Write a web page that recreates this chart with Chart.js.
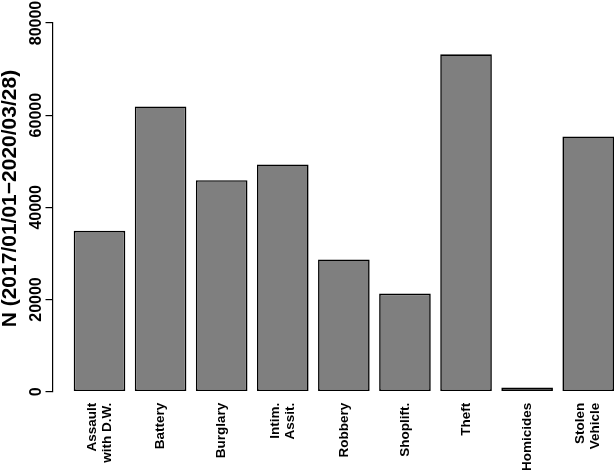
<!DOCTYPE html>
<html>
<head>
<meta charset="utf-8">
<script src="https://cdn.jsdelivr.net/npm/chart.js@4.4.0/dist/chart.umd.min.js"></script>
<style>
  html, body { margin: 0; padding: 0; background: #fff; overflow: hidden; }
</style>
</head>
<body>
<canvas id="crimeChart" width="614" height="471"></canvas>
<script>
// categories (multi-line labels as arrays)
const categories = [['Assault', 'with D.W.'], 'Battery', 'Burglary', ['Intim.', 'Assit.'], 'Robbery', 'Shoplift.', 'Theft', 'Homicides', ['Stolen', 'Vehicle']];
const counts = [34900, 61900, 45900, 49300, 28700, 21300, 73200, 900, 55400];
const yTicks = [0, 20000, 40000, 60000, 80000];

const FONT = '"Liberation Sans", Arial, Helvetica, sans-serif';

// rotated x labels, each line centred on its bar like R's las=2
const xLabelPlugin = {
  id: 'xLabels',
  afterDraw(chart) {
    const { ctx, chartArea, scales: { x } } = chart;
    const lh = 15;
    ctx.save();
    ctx.fillStyle = '#000';
    ctx.font = 'bold 13.5px ' + FONT;
    ctx.textAlign = 'right';
    ctx.textBaseline = 'middle';
    x.ticks.forEach((t, i) => {
      const lines = [].concat(categories[i]);
      const px = x.getPixelForValue(t.value);
      ctx.save();
      ctx.translate(px, chartArea.bottom + 11);
      ctx.rotate(-Math.PI / 2);
      lines.forEach((ln, j) => {
        ctx.fillText(ln, 0, (j - (lines.length - 1) / 2) * lh);
      });
      ctx.restore();
    });
    ctx.restore();
  }
};

const ctx = document.getElementById('crimeChart').getContext('2d');
new Chart(ctx, {
  type: 'bar',
  data: {
    datasets: [{
      data: counts.map((v, i) => ({ x: i + 1, y: v })),
      backgroundColor: '#7f7f7f',
      borderColor: '#000000',
      borderWidth: 1.6,
      borderSkipped: false,
      categoryPercentage: 1,
      barPercentage: 0.845
    }]
  },
  options: {
    responsive: false,
    animation: false,
    devicePixelRatio: 1,
    layout: { padding: { top: 23, left: 0, right: 0, bottom: 0 } },
    plugins: {
      legend: { display: false },
      tooltip: { enabled: false }
    },
    scales: {
      x: {
        type: 'linear',
        offset: false,
        min: 0.2306,
        max: 9.422,
        grid: { display: false, drawTicks: false, offset: false },
        border: { display: false },
        ticks: { display: false },
        afterBuildTicks: (s) => { s.ticks = categories.map((c, i) => ({ value: i + 1 })); },
        afterFit: (s) => { s.height = 79.3; }
      },
      y: {
        min: 0,
        max: 80000,
        afterBuildTicks: (s) => { s.ticks = yTicks.map(v => ({ value: v })); },
        grid: { drawOnChartArea: false, drawTicks: true, tickLength: 7, color: '#000', lineWidth: 1.2 },
        border: { display: true, color: '#000', width: 1.2 },
        ticks: {
          minRotation: 90,
          maxRotation: 90,
          crossAlign: 'center',
          padding: -13,
          color: '#000',
          font: { family: FONT, size: 16, weight: 'bold' },
          callback: (v) => String(v)
        },
        title: {
          display: true,
          text: '   N (2017/01/01\u22122020/03/28)',
          color: '#000',
          font: { family: FONT, size: 21, weight: 'bold', lineHeight: 1 },
          padding: { top: 0, bottom: 0 }
        },
        afterFit: (s) => { s.width = 52.5; }
      }
    }
  },
  plugins: [xLabelPlugin]
});
</script>
</body>
</html>
